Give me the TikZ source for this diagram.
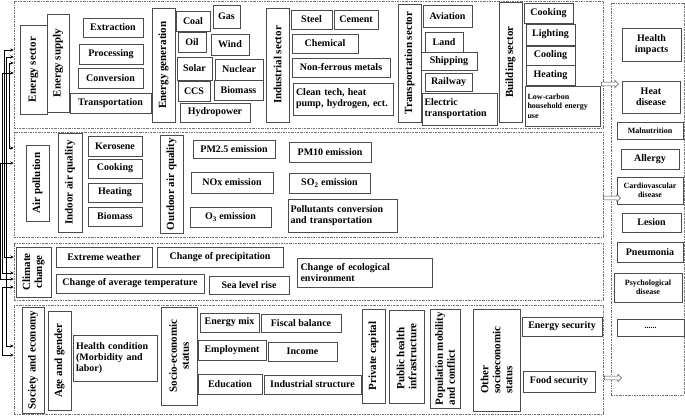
\documentclass[tikz,border=0pt]{standalone}
\usepackage{fontspec}
\setmainfont{Liberation Serif}
\usetikzlibrary{arrows.meta,shapes.arrows}
\tikzset{
 bx/.style={draw=black!70, line width=0.8pt, inner sep=1pt, font=\bfseries\fontsize{10}{11}\selectfont, align=center, fill=white},
 vt/.style={font=\bfseries\fontsize{11}{12}\selectfont},
 sm/.style={font=\bfseries\fontsize{8}{9.5}\selectfont},
 dbox/.style={draw=black!55, line width=0.6pt, dash pattern=on 2pt off 1pt on 0.6pt off 1pt, fill=none},
 link/.style={draw=black, line width=0.6pt, {Stealth[length=3.5pt,width=3.2pt]}-{Stealth[length=3.5pt,width=3.2pt]}},
 harrow/.style={single arrow, draw=black!70, line width=0.5pt, minimum height=17pt, single arrow head extend=1.8pt, inner sep=1.6pt, fill=white}
}
\newcommand\hb[7][]{\node[bx,minimum width={#5-#3},minimum height={#6-#4},#1] (#2) at ({(#3+#5)/2},{(#4+#6)/2}) {#7};}
\newcommand\vb[7][]{\node[bx,vt,rotate=90,minimum width={#6-#4},minimum height={#5-#3},#1] (#2) at ({(#3+#5)/2},{(#4+#6)/2}) {#7};}
\begin{document}
\begin{tikzpicture}[x=1pt,y=-1pt]
\useasboundingbox (0,0) rectangle (685,416);
% dashed group boxes
\hb[dbox]{energyBox}{14}{1}{603}{128}{}
\hb[dbox]{airBox}{14}{132}{603}{237}{}
\hb[dbox]{climateBox}{14}{243}{603}{300}{}
\hb[dbox]{societyBox}{14}{305}{603}{414}{}
\hb[dbox]{healthBox}{611}{3}{684}{395}{}
% energy
\vb{esec}{20}{25}{47}{114}{Energy sector}
\vb{esup}{47}{14}{69}{112}{Energy supply}
\hb{extr}{83}{18}{143}{37}{Extraction}
\hb{proc}{79}{44}{143}{64}{Processing}
\hb{conv}{78}{68}{143}{88}{Conversion}
\hb{etra}{70}{93}{151}{113}{Transportation}
\vb{egen}{152}{8}{175}{122}{Energy generation}
\hb{coal}{176}{11}{210}{31}{Coal}
\hb{gas}{213}{5}{240}{28}{Gas}
\hb{oil}{178}{32}{206}{52}{Oil}
\hb{wind}{211}{34}{249}{55}{Wind}
\hb{solar}{177}{57}{212}{80}{Solar}
\hb{nucl}{215}{59}{263}{80}{Nuclear}
\hb{ccs}{178}{81}{210}{101}{CCS}
\hb{biom}{214}{80}{263}{100}{Biomass}
\hb{hydro}{180}{103}{250}{122}{Hydropower}
\vb{ind}{266}{8}{289}{122}{Industrial sector}
\hb{steel}{291}{10}{332}{29}{Steel}
\hb{cem}{334}{10}{378}{29}{Cement}
\hb{chem}{292}{34}{358}{53}{Chemical}
\hb{nonf}{292}{58}{390}{77}{Non-ferrous metals}
\hb[align=left,text width=94]{clean}{293}{83}{393}{115}{Clean tech, heat\\pump, hydrogen, ect.}
\vb{trs}{398}{4}{421}{122}{Transportation sector}
\hb{avi}{423}{5}{472}{27}{Aviation}
\hb{land}{425}{32}{463}{52}{Land}
\hb{ship}{421}{52}{477}{70}{Shipping}
\hb{rail}{425}{73}{472}{91}{Railway}
\hb[align=left,text width=70]{elec}{422}{93}{497}{125}{Electric\\transportation}
\vb{bld}{499}{2}{522}{122}{Building sector}
\hb{bcook}{524}{3}{573}{23}{Cooking}
\hb{light}{526}{24}{575}{45}{Lighting}
\hb{cool}{526}{46}{575}{65}{Cooling}
\hb{bheat}{526}{65}{575}{85}{Heating}
\hb[sm,align=left,text width=70]{lowc}{525}{86}{600}{126}{Low-carbon\\household energy\\use}
% air
\vb{airp}{26}{145}{49}{221}{Air pollution}
\vb{inaq}{58}{133}{82}{232}{Indoor air quality}
\hb{kero}{88}{136}{142}{156}{Kerosene}
\hb{acook}{88}{159}{142}{178}{Cooking}
\hb{aheat}{88}{183}{142}{202}{Heating}
\hb{abio}{88}{207}{142}{226}{Biomass}
\vb{outaq}{160}{135}{183}{233}{Outdoor air quality}
\hb{pm25}{193}{140}{275}{158}{PM2.5 emission}
\hb{nox}{191}{172}{273}{193}{NOx emission}
\hb{othree}{190}{207}{271}{227}{O\textsubscript{3} emission}
\hb{pm10}{289}{142}{371}{162}{PM10 emission}
\hb{so2}{289}{173}{370}{193}{SO\textsubscript{2} emission}
\hb[align=left,text width=104]{poll}{288}{199}{397}{232}{Pollutants conversion\\and transportation}
% climate
\vb{clim}{16}{247}{51}{297}{Climate\\change}
\hb{extw}{56}{247}{152}{267}{Extreme weather}
\hb{prec}{157}{247}{283}{267}{Change of precipitation}
\hb{avgt}{56}{274}{204}{293}{Change of average temperature}
\hb{sea}{209}{276}{289}{294}{Sea level rise}
\hb[align=left,text width=128]{eco}{297}{258}{432}{287}{Change of ecological\\environment}
% society
\vb{soc}{22}{307}{44}{413}{Society and economy}
\vb{age}{48}{311}{71}{410}{Age and gender}
\hb[align=left,text width=78]{hcond}{73}{335}{157}{381}{Health condition\\(Morbidity and\\labor)}
\vb{sest}{161}{307}{197}{405}{Socio-economic\\status}
\hb{emix}{200}{313}{259}{332}{Energy mix}
\hb{empl}{198}{340}{266}{360}{Employment}
\hb{edu}{198}{374}{262}{394}{Education}
\hb{fisc}{261}{314}{341}{332}{Fiscal balance}
\hb{inc}{268}{342}{337}{361}{Income}
\hb{indst}{264}{375}{361}{394}{Industrial structure}
\vb{priv}{362}{309}{385}{403}{Private capital}
\vb[align=left]{phi}{389}{310}{424}{403}{Public health\\infrastructure}
\vb[align=left]{popm}{430}{309}{460}{408}{Population mobility\\and conflict}
\vb[align=left]{oses}{473}{309}{520}{411}{Other\\socioeconomic\\status}
\hb{esec2}{522}{317}{602}{336}{Energy security}
\hb{food}{523}{371}{595}{392}{Food security}
% health
\hb{himp}{622}{28}{681}{61}{Health\\impacts}
\hb{hdis}{622}{81}{680}{113}{Heat\\disease}
\hb[sm]{maln}{617}{122}{683}{139}{Malnutrition}
\hb{alle}{621}{149}{679}{169}{Allergy}
\hb[sm]{card}{617}{177}{683}{204}{Cardiovascular\\disease}
\hb{lesi}{622}{213}{681}{232}{Lesion}
\hb{pneu}{617}{242}{683}{262}{Pneumonia}
\hb[sm]{psyc}{614}{273}{682}{302}{Psychological\\disease}
\hb[sm]{dots}{617}{319}{684}{336}{......}
% hollow arrows
\node[harrow] (ha1) at (609,84) {};
\node[harrow] (ha2) at (611,198) {};
\node[harrow] (ha3) at (612,378) {};
% left links
\draw[link] (energyBox.west |- 0,50) -- (4,50) -- (4,257) -- (climateBox.west |- 0,257);
\draw[link] (energyBox.west |- 0,57) -- (6,57) -- (6,346) -- (societyBox.west |- 0,346);
\draw[link] (energyBox.west |- 0,63) -- (9,63) -- (9,148) -- (airBox.west |- 0,148);
\draw[link] (energyBox.west |- 0,73) -- (2,73) -- (2,273) -- (climateBox.west |- 0,273);
\draw[link] (airBox.west |- 0,163) -- (0.8,163) -- (0.8,279) -- (climateBox.west |- 0,279);
\draw[link] (climateBox.west |- 0,287) -- (2,287) -- (2,355) -- (societyBox.west |- 0,355);
\end{tikzpicture}
\end{document}
